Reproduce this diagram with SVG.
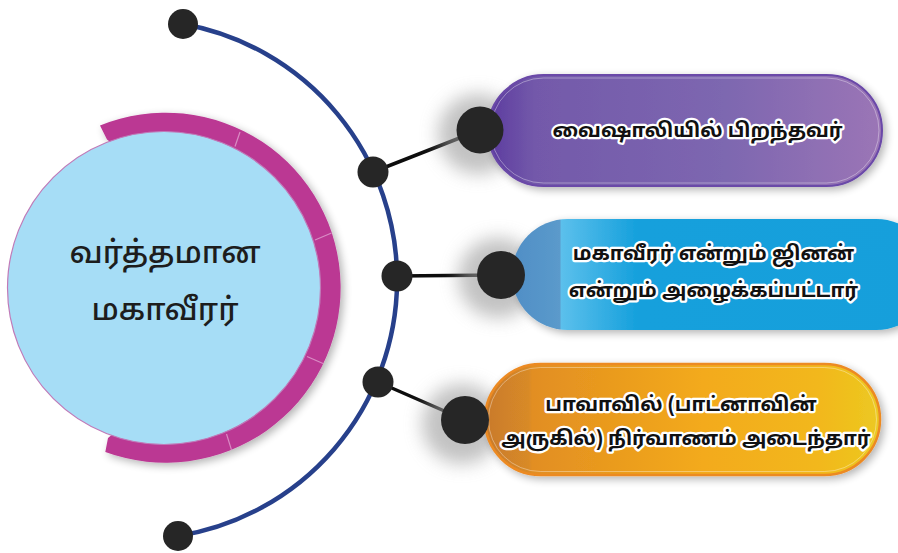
<svg xmlns="http://www.w3.org/2000/svg" width="898" height="553" viewBox="0 0 898 553">
  <defs>
    <style>
      .dot { fill: #262626; }
      .link { stroke: #0d0d0d; stroke-width: 3.5; fill: none; stroke-linecap: round; }
      .arc { stroke: #27408b; stroke-width: 4.5; fill: none; }
      .sep { stroke: #d98cc4; stroke-width: 1.2; }
      .ctext { font-family: "Noto Sans Tamil", "Latha", "Noto Sans", sans-serif; font-size: 31px; font-weight: 500; fill: #1d1d1d; text-anchor: middle; }
      .ptext { font-family: "Noto Sans Tamil", "Latha", "Noto Sans", sans-serif; font-size: 20px; font-weight: bold; fill: #111; stroke: #fff; stroke-width: 4.5px; stroke-linejoin: round; paint-order: stroke; text-anchor: middle; }
      .inner { fill: none; stroke: #ffffff; stroke-opacity: 0.45; stroke-width: 0.8; }
    </style>
    <filter id="soft" x="-20%" y="-20%" width="140%" height="140%">
      <feGaussianBlur in="SourceAlpha" stdDeviation="4"/>
      <feOffset dx="3" dy="3" result="b"/>
      <feComponentTransfer><feFuncA type="linear" slope="0.3"/></feComponentTransfer>
      <feMerge><feMergeNode/><feMergeNode in="SourceGraphic"/></feMerge>
    </filter>
    <filter id="glow" x="-50%" y="-50%" width="200%" height="200%">
      <feGaussianBlur stdDeviation="9"/>
    </filter>
    <linearGradient id="gPurple" x1="0" x2="1" y1="0" y2="0">
      <stop offset="0" stop-color="#5c3b9f"/>
      <stop offset="0.12" stop-color="#7359aa"/>
      <stop offset="0.6" stop-color="#7d67b0"/>
      <stop offset="1" stop-color="#9b75b6"/>
    </linearGradient>
    <linearGradient id="gBlue" x1="0" x2="1" y1="0" y2="0">
      <stop offset="0" stop-color="#4f8ec6"/>
      <stop offset="0.115" stop-color="#5b9acb"/>
      <stop offset="0.116" stop-color="#5cc0ec"/>
      <stop offset="0.3" stop-color="#15a0dc"/>
      <stop offset="1" stop-color="#139fdb"/>
    </linearGradient>
    <linearGradient id="gOrange" x1="0" x2="1" y1="0" y2="0">
      <stop offset="0" stop-color="#c97a2a"/>
      <stop offset="0.11" stop-color="#d88a28"/>
      <stop offset="0.12" stop-color="#e28e22"/>
      <stop offset="0.55" stop-color="#f3aa1a"/>
      <stop offset="0.85" stop-color="#f2b81a"/>
      <stop offset="1" stop-color="#ecc922"/>
    </linearGradient>
  </defs>
  <rect width="898" height="553" fill="#ffffff"/>

  <g id="center-node">
    <path d="M 100 125.5 A 175 175 0 1 1 105.3 452 L 108 438 L 115 432 L 164 288 L 113 144 L 107 139.5 Z" fill="#bb3793" filter="url(#soft)"/>
    <line class="sep" x1="235" y1="146.5" x2="240" y2="132"/>
    <line class="sep" x1="315" y1="240" x2="331.5" y2="233"/>
    <line class="sep" x1="307" y1="356.5" x2="323" y2="363.5"/>
    <line class="sep" x1="226.5" y1="434" x2="231.5" y2="450"/>
    <circle cx="164" cy="288" r="156.5" fill="#a6ddf6" stroke="#c07ab8" stroke-width="1.2"/>
    <text class="ctext" x="165" y="263">வர்த்தமான</text>
    <text class="ctext" x="165" y="320">மகாவீரர்</text>
  </g>

  <g id="connectors">
    <path class="arc" d="M 183 24 A 259.6 259.6 0 0 1 178 536"/>
    <line class="link" x1="373" y1="172" x2="480" y2="130"/>
    <line class="link" x1="397" y1="276" x2="501" y2="275"/>
    <line class="link" x1="378" y1="382" x2="465" y2="420"/>
    <circle class="dot" cx="183" cy="24" r="15"/>
    <circle class="dot" cx="178" cy="536" r="15"/>
    <circle class="dot" cx="373" cy="172" r="15.5"/>
    <circle class="dot" cx="397" cy="276" r="15.5"/>
    <circle class="dot" cx="378" cy="382" r="15.5"/>
  </g>

  <g id="node-birth">
    <circle cx="478" cy="134" r="40" fill="#9a9a9a" opacity="0.6" filter="url(#glow)"/>
    <rect x="488" y="75" width="394" height="111" rx="55.5" fill="url(#gPurple)" stroke="#6a48a8" stroke-width="2" filter="url(#soft)"/>
    <rect x="491" y="78" width="388" height="105" rx="52.5" class="inner"/>
    <circle class="dot" cx="480" cy="130" r="23.5"/>
    <text class="ptext" x="697.5" y="137">வைஷாலியில் பிறந்தவர்</text>
  </g>

  <g id="node-names">
    <circle cx="498" cy="278" r="40" fill="#9a9a9a" opacity="0.6" filter="url(#glow)"/>
    <rect x="512" y="219" width="420" height="111" rx="55.5" fill="url(#gBlue)" filter="url(#soft)"/>
    <circle class="dot" cx="501" cy="275" r="24"/>
    <text class="ptext" x="713.5" y="260">மகாவீரர் என்றும் ஜினன்</text>
    <text class="ptext" x="713.5" y="297">என்றும் அழைக்கப்பட்டார்</text>
  </g>

  <g id="node-nirvana">
    <circle cx="462" cy="424" r="40" fill="#9a9a9a" opacity="0.6" filter="url(#glow)"/>
    <rect x="485" y="364" width="395" height="111" rx="55.5" fill="url(#gOrange)" stroke="#ec8a24" stroke-width="2.5" filter="url(#soft)"/>
    <rect x="488.5" y="367.5" width="388" height="104" rx="52" class="inner"/>
    <circle class="dot" cx="465" cy="420" r="24"/>
    <text class="ptext" x="681" y="411">பாவாவில் (பாட்னாவின்</text>
    <text class="ptext" x="686" y="445">அருகில்) நிர்வாணம் அடைந்தார்</text>
  </g>
</svg>
